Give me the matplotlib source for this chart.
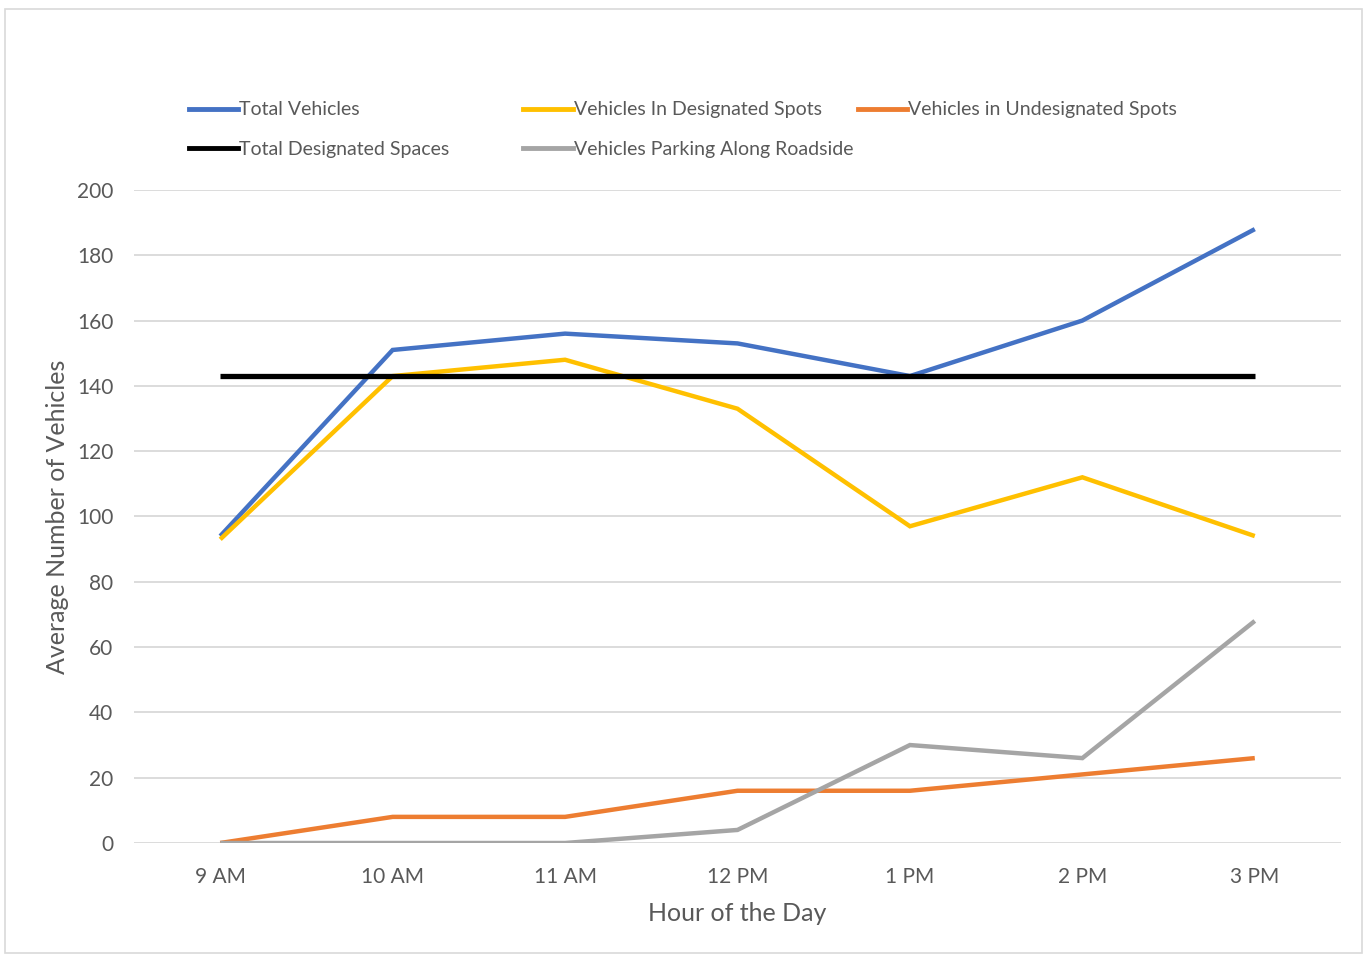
import matplotlib.pyplot as plt
import matplotlib.patches as mpatches
from matplotlib.lines import Line2D

# Hourly parking counts
hours = ['9 AM', '10 AM', '11 AM', '12 PM', '1 PM', '2 PM', '3 PM']
total_vehicles = [94, 151, 156, 153, 143, 160, 188]
designated_spots = [93, 143, 148, 133, 97, 112, 94]
undesignated_spots = [0, 8, 8, 16, 16, 21, 26]
designated_spaces = [143, 143, 143, 143, 143, 143, 143]
roadside = [0, 0, 0, 4, 30, 26, 68]

plt.rcParams['font.family'] = ['Lato', 'DejaVu Sans']
text_color = '#595959'

fig = plt.figure(figsize=(13.66, 9.56), dpi=100)
ax = fig.add_axes([0.0981, 0.1182, 0.8836, 0.6831])

x = range(len(hours))
series = [
    (total_vehicles, 'Total Vehicles', '#4472C4', 3.2),
    (designated_spots, 'Vehicles In Designated Spots', '#FFC000', 3.2),
    (undesignated_spots, 'Vehicles in Undesignated Spots', '#ED7D31', 3.2),
    (designated_spaces, 'Total Designated Spaces', '#000000', 3.8),
    (roadside, 'Vehicles Parking Along Roadside', '#A5A5A5', 3.2),
]
lines = {}
for values, label, color, lw in series:
    ln, = ax.plot(x, values, color=color, linewidth=lw, label=label,
                  solid_capstyle='butt', solid_joinstyle='miter')
    lines[label] = ln

ax.set_xlim(-0.5, len(hours) - 0.5)
ax.set_ylim(0, 200)
ax.set_yticks(range(0, 201, 20))
ax.set_xticks(list(x))
ax.set_xticklabels(hours)
ax.grid(axis='y', color='#D9D9D9', linewidth=1.3)
ax.set_axisbelow(True)
for s in ax.spines.values():
    s.set_visible(False)
ax.tick_params(axis='both', length=0, labelsize=15, colors=text_color)
ax.tick_params(axis='y', pad=15)
ax.tick_params(axis='x', pad=17)

ax.set_ylabel('Average Number of Vehicles', fontsize=18, color=text_color)
ax.yaxis.set_label_coords(-0.054, 0.5)
ax.set_xlabel('Hour of the Day', fontsize=18, color=text_color)
ax.xaxis.set_label_coords(0.5, -0.09)

# legend laid out as three equal-width columns above the plot
columns = [
    (['Total Vehicles', 'Total Designated Spaces'], 0.138),
    (['Vehicles In Designated Spots', 'Vehicles Parking Along Roadside'], 0.383),
    (['Vehicles in Undesignated Spots'], 0.628),
]
for labels, xpos in columns:
    handles = [Line2D([], [], color=lines[l].get_color(), linewidth=3.5) for l in labels]
    leg = fig.legend(handles, labels, loc='upper left', bbox_to_anchor=(xpos, 0.894),
                     frameon=False, fontsize=14, handlelength=2.55, handletextpad=0.05,
                     labelspacing=1.15, borderpad=0, borderaxespad=0)
    for t in leg.get_texts():
        t.set_color(text_color)

# chart frame
fig.patches.append(mpatches.Rectangle((0.004, 0.003), 0.993, 0.988, transform=fig.transFigure,
                                      fill=False, edgecolor='#D9D9D9', linewidth=1.2))

plt.savefig('out.png', dpi=100)
